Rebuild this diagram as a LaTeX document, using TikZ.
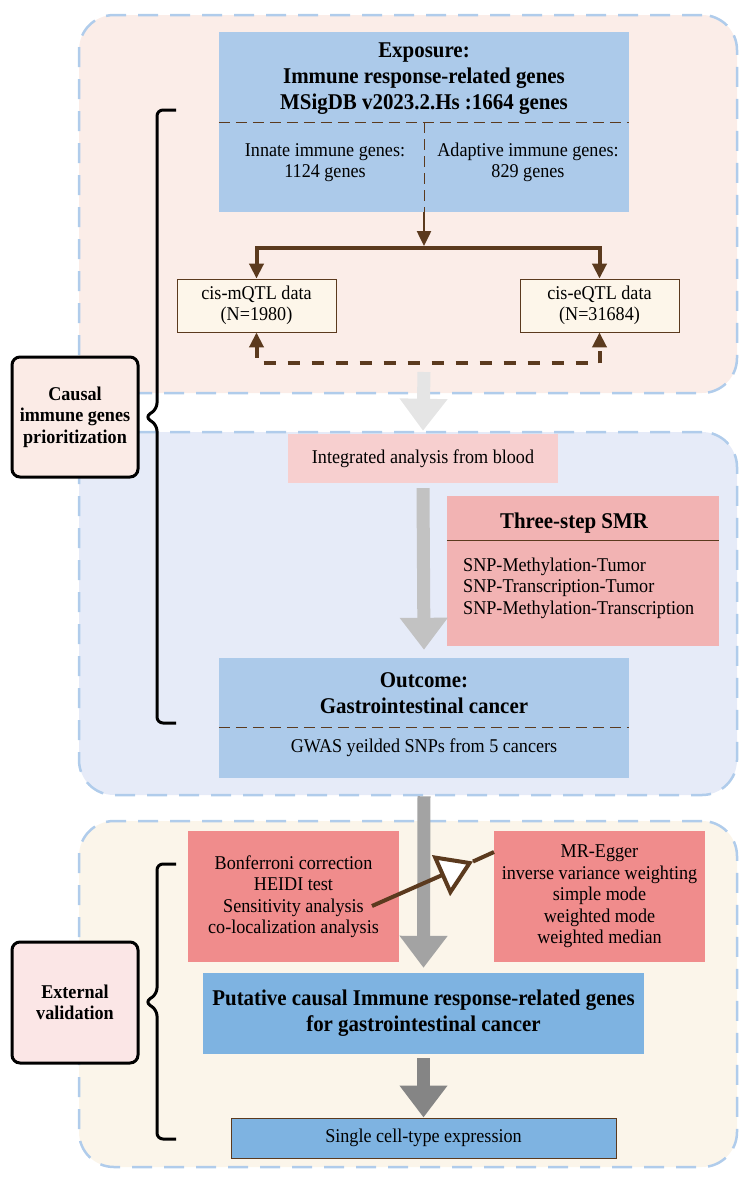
\documentclass[tikz,border=0pt]{standalone}
\usepackage{fontspec}
\setmainfont[FakeStretch=0.93]{Liberation Serif}
\usetikzlibrary{positioning, arrows.meta}
\definecolor{panelA}{HTML}{FBEDE8}
\definecolor{panelB}{HTML}{E6EBF8}
\definecolor{panelC}{HTML}{FBF5EA}
\definecolor{frame}{HTML}{B0CCEB}
\definecolor{lightblue}{HTML}{ACCAEA}
\definecolor{midblue}{HTML}{7EB3E1}
\definecolor{cream}{HTML}{FDF6EA}
\definecolor{rose}{HTML}{F7CFCF}
\definecolor{salmon}{HTML}{F2B3B3}
\definecolor{coral}{HTML}{F08C8C}
\definecolor{umber}{HTML}{5B3A1E}
\definecolor{sideA}{HTML}{FBEBE6}
\definecolor{sideB}{HTML}{FBE6E6}
\definecolor{grayA}{HTML}{E5E5E5}
\definecolor{grayB}{HTML}{C2C2C2}
\definecolor{grayC}{HTML}{A3A3A3}
\definecolor{grayD}{HTML}{858585}
\newcommand{\txt}{\fontsize{19.5}{21.5}\selectfont}
\newcommand{\bigtxt}{\fontsize{22.5}{26}\selectfont\bfseries}

\begin{document}
\begin{tikzpicture}[x=1pt, y=-1pt, node distance={184pt},
	panel/.style = {draw=frame, line width=2.5pt, dash pattern=on 20pt off 12pt, rounded corners=35pt, minimum width=658pt},
	box/.style = {rectangle, inner sep=0pt, align=center, font=\txt},
	side/.style = {draw, line width=3pt, rounded corners=8pt, inner sep=0pt, align=center, font=\txt\bfseries, minimum width=126pt},
	link/.style = {draw=umber, line width=4pt, -{Triangle[length=15pt, width=14pt]}},
	both/.style = {draw=umber, line width=4pt, dash pattern=on 12pt off 12pt, {Triangle[length=15pt, width=14pt]}-{Triangle[length=15pt, width=14pt]}},
	flow/.style = {line width=13pt, -{Triangle[length=32pt, width=46pt]}},
	divider/.style = {draw=umber, line width=1pt, dash pattern=on 11pt off 6pt},
	bracket/.style = {draw, line width=3pt, rounded corners=6pt}]
		\useasboundingbox (0,0) rectangle (744,1179);
		\node[panel, fill=panelA, minimum height=378pt] (top) at (408,204) {};
		\node[panel, fill=panelB, minimum height=363pt] (mid) at (408,613.5) {};
		\node[panel, fill=panelC, minimum height=346pt] (low) at (408,994) {};

		\node[box, fill=lightblue, minimum width=410pt, minimum height=180pt] (expo) at (424,122) {};
		\node[box, font=\bigtxt] (expotitle) at (424,79) {Exposure:\\Immune response-related genes\\MSigDB v2023.2.Hs :1664 genes};
		\coordinate (cut) at (424,122);
		\draw[divider] (expo.west |- cut) -- (expo.east |- cut);
		\draw[divider] (cut) -- (expo.south);
		\node[box] (innate) at (325,162.5) {Innate immune genes:\\1124 genes};
		\node[box] (adaptive) at (528,162.5) {Adaptive immune genes:\\829 genes};

		\node[box, draw=umber, line width=0.8pt, fill=cream, minimum width=159pt, minimum height=53pt] (mqtl) at (256.5,305.5) {cis-mQTL data\\(N=1980)};
		\node[box, draw=umber, line width=0.8pt, fill=cream, minimum width=159pt, minimum height=53pt] (eqtl) [right of=mqtl, xshift=159pt] {cis-eQTL data\\(N=31684)};
		\coordinate (fork) at (424,246);
		\draw[link, line width=2.5pt] (expo.south) -- (fork);
		\draw[link] (424,248) -| (mqtl.north);
		\draw[link] (424,248) -| (eqtl.north);
		\draw[both] (mqtl.south) -- ++(0,31) -| (eqtl.south);

		\node[box, fill=rose, minimum width=270pt, minimum height=49pt] (blood) at (423,458.5) {Integrated analysis from blood};
		\node[box, fill=salmon, minimum width=272pt, minimum height=150pt] (smr) at (583,571) {};
		\node[box, font=\bigtxt] (smrtitle) at (574,523) {Three-step SMR};
		\coordinate (rule) at (583,540);
		\draw[umber, line width=1pt] (smr.west |- rule) -- (smr.east |- rule);
		\node[box, align=left, anchor=west] (steps) at (463,588) {SNP-Methylation-Tumor\\SNP-Transcription-Tumor\\SNP-Methylation-Transcription};

		\node[box, fill=lightblue, minimum width=410pt, minimum height=120pt] (outcome) at (424,718) {};
		\node[box, font=\bigtxt] (outtitle) at (424,693.5) {Outcome:\\Gastrointestinal cancer};
		\coordinate (cut2) at (424,727);
		\draw[divider] (outcome.west |- cut2) -- (outcome.east |- cut2);
		\node[box] (gwas) at (424,748) {GWAS yeilded SNPs from 5 cancers};

		\node[box, fill=coral, minimum width=211pt, minimum height=131pt] (bonf) at (293.5,896.5) {Bonferroni correction\\HEIDI test\\Sensitivity analysis\\co-localization analysis};
		\node[box, fill=coral, minimum width=211pt, minimum height=131pt] (mr) [right of=bonf, xshift=122pt] {MR-Egger\\inverse variance weighting\\simple mode\\weighted mode\\weighted median};
		\node[box, fill=midblue, font=\bigtxt, minimum width=441pt, minimum height=81pt] (putative) at (423.5,1013.5) {Putative causal Immune response-related genes\\for gastrointestinal cancer};
		\node[box, draw=umber, line width=1pt, fill=midblue, minimum width=385pt, minimum height=40pt] (single) at (423.5,1138) {Single cell-type expression};

		\coordinate (g1) at (424,372);
		\draw[flow, grayA] (g1) -- (blood.north |- mid.north);
		\draw[flow, grayB] ([yshift=-5pt]blood.south) -- ([yshift=8pt]outcome.north);
		\draw[flow, grayC] (outcome.south |- mid.south) -- ([yshift=5pt]putative.north);
		\draw[flow, grayD] ([yshift=-4pt]putative.south) -- (single.north);

		\coordinate (tail) at (372,906);
		\coordinate (tip) at (473,861.5);
		\coordinate (land) at (494,852);
		\draw[umber, line width=4pt, -{Triangle[fill=white, length=35pt, width=44pt]}] (tail) -- (tip);
		\draw[umber, line width=4pt] (tip) -- (land);

		\draw[bracket] (176,110) -- (157,110) -- (157,409) -- (145,417) -- (157,425) -- (157,723) -- (176,723);
		\draw[bracket] (176,864) -- (157,864) -- (157,994) -- (145,1002) -- (157,1010) -- (157,1139) -- (176,1139);
		\node[side, fill=sideA, minimum height=120pt] (causal) at (75,417) {Causal\\immune genes\\prioritization};
		\node[side, fill=sideB, minimum height=121pt] (external) at (75,1002.5) {External\\validation};
	\end{tikzpicture}
\end{document}
